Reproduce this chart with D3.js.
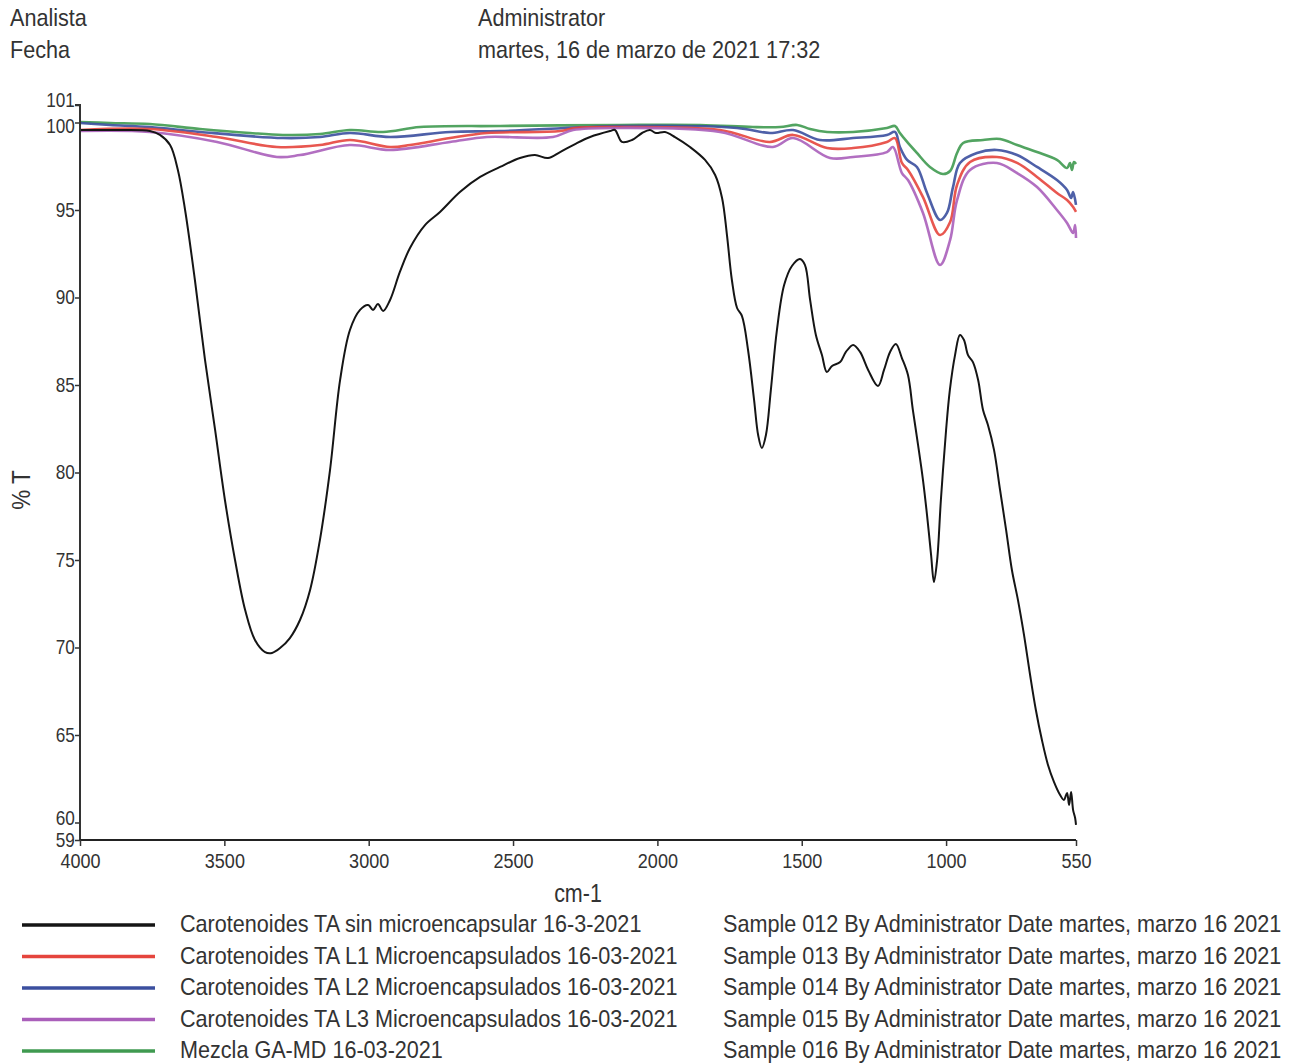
<!DOCTYPE html>
<html><head><meta charset="utf-8">
<script src="https://cdn.jsdelivr.net/npm/d3@7"></script>
<style>
html,body{margin:0;padding:0;background:#fff;}
svg text{font-family:"Liberation Sans Narrow","Arial Narrow","Liberation Sans",sans-serif;fill:#333;}
</style></head>
<body><svg id="chart" width="1294" height="1063"></svg>
<script>
// ---- data (wavenumber cm-1, %T) ----
const blackW = [4000,3861,3758,3723,3688,3661,3636,3602,3567,3532,3498,3463,3428,3394,3359,3335,3307,3273,3238,3203,3169,3134,3099,3065,3030,3002,2985,2968,2950,2926,2892,2857,2805,2753,2684,2614,2545,2476,2424,2379,2337,2285,2233,2164,2147,2123,2088,2053,2026,2005,1974,1939,1887,1835,1800,1776,1759,1742,1724,1707,1686,1665,1651,1638,1624,1607,1586,1561,1534,1506,1489,1471,1451,1430,1413,1395,1367,1347,1322,1298,1270,1236,1215,1194,1174,1153,1132,1115,1097,1080,1066,1052,1042,1031,1018,1000,987,969,952,938,924,907,889,872,855,834,813,792,772,751,730,709,689,668,647,626,605,592,581,574,567,560,553,550];
const blackT = [99.57,99.57,99.51,99.29,98.71,97.29,95.0,91.0,86.43,82.43,78.43,75.0,72.14,70.43,69.74,69.69,69.97,70.54,71.57,73.29,76.14,80.14,85.29,88.14,89.29,89.57,89.29,89.63,89.23,89.86,91.46,92.83,94.14,94.89,96.03,96.89,97.46,97.97,98.14,97.97,98.31,98.77,99.17,99.51,99.57,98.89,99.0,99.4,99.57,99.4,99.46,99.17,98.6,97.86,97.0,95.69,93.57,91.0,89.4,88.94,87.0,84.14,82.14,81.4,82.14,84.71,88.14,90.71,91.8,92.2,91.86,89.86,87.86,86.71,85.74,86.09,86.31,86.89,87.29,86.89,85.86,84.94,85.86,86.89,87.34,86.54,85.57,83.57,81.57,79.57,77.57,75.29,73.74,75.0,78.43,82.43,84.71,86.71,87.86,87.57,86.71,86.31,85.29,83.57,82.71,81.29,79.0,76.71,74.43,72.71,70.71,68.43,66.43,64.71,63.29,62.31,61.57,61.29,61.69,61.0,61.74,60.71,60.26,59.86];

const redW = [4000,3758,3525,3318,3169,3065,2926,2857,2718,2590,2337,2285,2130,1783,1610,1530,1412,1322,1205,1177,1153,1132,1080,1021,986,962,917,824,754,685,616,581,560,550];
const redT = [99.57,99.63,99.17,98.6,98.71,99.0,98.6,98.71,99.11,99.4,99.51,99.69,99.74,99.57,98.89,99.29,98.54,98.54,98.89,99.11,97.69,97.29,95.74,93.57,94.31,96.43,97.74,98.03,97.69,96.89,95.97,95.57,95.17,94.89];

const blueW = [4000,3896,3758,3584,3297,3169,3065,2926,2718,2545,2130,1724,1610,1530,1437,1322,1205,1177,1160,1135,1101,1066,1021,997,976,952,893,824,754,685,616,581,567,560,550];
const blueT = [99.97,99.86,99.74,99.46,99.11,99.17,99.4,99.17,99.46,99.51,99.8,99.69,99.4,99.57,99.0,99.11,99.29,99.46,98.6,97.86,97.46,95.97,94.43,94.83,96.31,97.69,98.26,98.43,98.14,97.46,96.71,96.14,95.69,96.03,95.29];

const magW = [4000,3758,3525,3318,3238,3065,2926,2718,2590,2362,2292,2130,1783,1600,1530,1402,1322,1205,1184,1153,1132,1080,1021,986,962,917,824,754,685,616,581,560,553,550];
const magT = [99.51,99.46,98.89,98.03,98.14,98.71,98.43,98.89,99.17,99.17,99.57,99.69,99.46,98.6,99.11,97.97,98.03,98.31,98.6,97.11,96.71,94.83,91.86,93.29,95.57,97.29,97.69,97.11,96.31,95.0,94.26,93.69,94.14,93.4];

const greenW = [4000,3896,3758,3584,3411,3297,3169,3065,2950,2822,2545,2130,1852,1669,1575,1516,1471,1412,1322,1205,1177,1160,1135,1101,1056,1011,986,962,941,872,813,754,685,616,581,571,564,557,550];
const greenT = [100.03,99.97,99.91,99.63,99.4,99.29,99.34,99.57,99.46,99.74,99.8,99.86,99.86,99.74,99.74,99.86,99.63,99.46,99.46,99.69,99.8,99.4,98.89,98.26,97.46,97.06,97.23,98.26,98.83,99.0,99.06,98.71,98.31,97.86,97.4,97.69,97.29,97.74,97.63];

const xTicks = [4000,3500,3000,2500,2000,1500,1000,550];
const yTicks = [59,60,65,70,75,80,85,90,95,100,101];

const seriesNames = ["Carotenoides TA sin microencapsular 16-3-2021","Carotenoides TA L1 Microencapsulados 16-03-2021","Carotenoides TA L2 Microencapsulados 16-03-2021","Carotenoides TA L3 Microencapsulados 16-03-2021","Mezcla GA-MD 16-03-2021"];
const sampleNotes = ["Sample 012 By Administrator Date martes, marzo 16 2021","Sample 013 By Administrator Date martes, marzo 16 2021","Sample 014 By Administrator Date martes, marzo 16 2021","Sample 015 By Administrator Date martes, marzo 16 2021","Sample 016 By Administrator Date martes, marzo 16 2021"];
const seriesColors = ["#151515","#e5453d","#3b4f9f","#aa5fba","#3f9a50"];

// ---- drawing ----
const svg = d3.select("#chart");
const x = d3.scaleLinear().domain([4000,550]).range([80,1076]);
const y = d3.scaleLinear().domain([59,101]).range([840,105]);
const SX = 0.86; // condensed look

function ctext(g, tx, ty, size, str, sx){
  return g.append("text").attr("transform",`translate(${tx},${ty}) scale(${sx||SX},1)`)
    .style("font-size",size+"px").text(str);
}

// header
const hdr = svg.append("g");
ctext(hdr,10,26,24,"Analista",0.9);
ctext(hdr,10,58,24,"Fecha",0.9);
ctext(hdr,478,26,24,"Administrator",0.9);
ctext(hdr,478,58,24,"martes, 16 de marzo de 2021 17:32",0.9);

// series
const series = [
  {w:greenW,t:greenT,c:seriesColors[4]},
  {w:blueW,t:blueT,c:seriesColors[2]},
  {w:redW,t:redT,c:seriesColors[1]},
  {w:magW,t:magT,c:seriesColors[3]},
  {w:blackW,t:blackT,c:seriesColors[0],black:true}
];
const line = d3.line().x(d=>x(d[0])).y(d=>y(d[1])).curve(d3.curveCatmullRom.alpha(0.5));
series.forEach(s=>{
  const pts = s.w.map((w,i)=>[w,s.t[i]]);
  svg.append("path").datum(pts).attr("d",line)
    .attr("fill","none").attr("stroke",s.c)
    .attr("stroke-width",s.black?2:2.6).attr("stroke-linejoin","round")
    .attr("opacity",s.black?1:0.9);
});

// axes
const yAxis = d3.axisLeft(y).tickValues(yTicks).tickSize(5).tickFormat(d3.format("d"));
const gy = svg.append("g").attr("transform","translate(80,0)").call(yAxis);
gy.select(".domain").attr("stroke","#333").attr("stroke-width",2).attr("d","M-5,105H0V840");
gy.selectAll(".tick line").attr("stroke","#333").attr("stroke-width",1.5);
gy.selectAll(".tick text").style("font-size","20px").attr("fill","#444").attr("x",-6)
  .attr("transform",`scale(${SX},1)`)
  .attr("dy",d=> d===101?"0.05em": d===100?"0.5em": d===60?"0.1em": d===59?"0.3em":"0.32em");

const xAxis = d3.axisBottom(x).tickValues(xTicks).tickSize(6).tickFormat(d3.format("d"));
const gx = svg.append("g").attr("transform","translate(0,840)").call(xAxis);
gx.select(".domain").attr("stroke","#222").attr("stroke-width",2).attr("d","M80,0H1076");
gx.selectAll(".tick line").attr("stroke","#333").attr("stroke-width",1.5);
gx.selectAll(".tick text").style("font-size","21px").attr("fill","#444").attr("y",13)
  .attr("transform",`scale(${SX},1)`);

ctext(svg,578,902,25,"cm-1").attr("text-anchor","middle");
svg.append("text").attr("transform","translate(30,490) rotate(-90) scale(0.9,1)").attr("text-anchor","middle").style("font-size","25px").text("% T");

// legend
const leg = svg.append("g");
seriesNames.forEach((n,i)=>{
  const yy = 925 + i*31.5;
  leg.append("line").attr("x1",22).attr("x2",155).attr("y1",yy).attr("y2",yy)
    .attr("stroke",seriesColors[i]).attr("stroke-width",3.5);
  ctext(leg,180,yy+7,24,n,0.9);
  ctext(leg,723,yy+7,24,sampleNotes[i],0.9);
});
</script></body></html>
